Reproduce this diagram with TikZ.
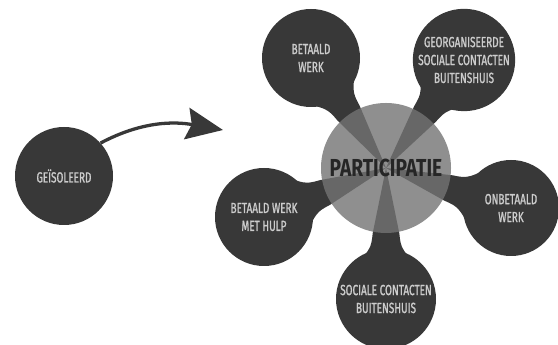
\documentclass[tikz,border=0pt]{standalone}
\usepackage{fontspec}
\setmainfont{Fira Sans}[FakeStretch=0.68, FakeBold=1.2]
\newfontfamily\hubfont{Fira Sans}[FakeStretch=0.78]
\usetikzlibrary{arrows.meta,calc,backgrounds}
\definecolor{bubblegray}{gray}{0.22}
\definecolor{hubgray}{gray}{0.45}
\definecolor{bubbletext}{gray}{0.8}
\tikzset{
	bubble/.style={
			circle, fill=bubblegray, text=bubbletext, inner sep=0pt, align=center,
			minimum size=#1, font=\fontsize{12.5}{15.3}\selectfont
		},
	hub/.style={
			circle, fill=hubgray, fill opacity=0.8, text opacity=1, text=black!85,
			inner sep=0pt, minimum size=3.9cm, font=\hubfont\bfseries\fontsize{21}{24}\selectfont
		},
	flow/.style={
			draw=bubblegray, line width=2.8pt,
			-{Stealth[length=1.1cm, width=0.95cm, inset=0.15cm]}
		}
}

\begin{document}
\begin{tikzpicture}[x=0.03cm, y=0.03cm]
		\useasboundingbox (0, 0) rectangle (558, 345);

		\node[bubble=2.94cm] (iso) at (64, 169) {GEÏSOLEERD};
		\coordinate (tip) at (223, 215);
		\draw[flow] (iso.42) to[out=28, in=170] (tip);

		\node[hub] (hub) at (386, 177) {PARTICIPATIE};

		\node[bubble=2.94cm] (bw) at (311, 287) {BETAALD\\WERK};
		\node[bubble=3.06cm] (geo) at (464, 285) {GEORGANISEERDE\\SOCIALE CONTACTEN\\BUITENSHUIS};
		\node[bubble=2.88cm] (onb) at (511, 137) {ONBETAALD\\WERK};
		\node[bubble=2.94cm] (bwh) at (264, 128) {BETAALD WERK\\MET HULP};
		\node[bubble=3cm] (soc) at (386, 46) {SOCIALE CONTACTEN\\BUITENSHUIS};

		% stems from the hub to every bubble
		\begin{scope}[on background layer]
			\foreach \s in {bw, geo, onb, bwh, soc}
			\fill[bubblegray] (hub.center)
				-- ($(hub.center)!0.5!(\s.center)!0.4cm!90:(\s.center)$)
				.. controls ($(hub.center)!0.62!(\s.center)!0.45cm!90:(\s.center)$) .. ($(\s.center)!1.4cm!-58:(hub.center)$)
				-- ($(\s.center)!1.4cm!58:(hub.center)$)
				.. controls ($(hub.center)!0.62!(\s.center)!0.45cm!-90:(\s.center)$) .. ($(hub.center)!0.5!(\s.center)!0.4cm!-90:(\s.center)$)
				-- cycle;
		\end{scope}
\end{tikzpicture}
\end{document}
